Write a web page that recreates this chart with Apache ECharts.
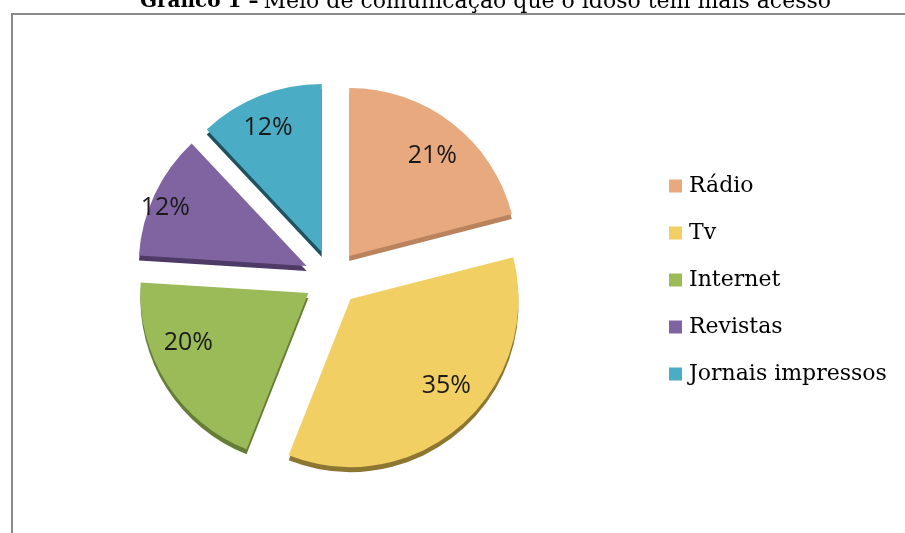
<!DOCTYPE html>
<html>
<head>
<meta charset="utf-8">
<script src="https://cdn.jsdelivr.net/npm/echarts@6/dist/echarts.min.js"></script>
<style>html,body{margin:0;padding:0;background:#fff}#c{width:905px;height:533px}</style>
</head>
<body>
<div id="c"></div>
<script>
const categories = ['Rádio', 'Tv', 'Internet', 'Revistas', 'Jornais impressos'];
const values = [21, 35, 20, 12, 12];
const titleBold = 'Gráfico 1 –';
const titleRest = 'Meio de comunicação que o idoso tem mais acesso';

const colors = ['#E8A97E', '#F2CF62', '#9BBB59', '#8064A2', '#4BACC6'];
const sideColors = ['#B9835E', '#8C7632', '#657D34', '#4E3A66', '#1F5260'];
const labelNudge = [[-1, 9], [5, -16], [-4, -24], [-17, 0], [-3, 4]];

const chart = echarts.init(document.getElementById('c'));
const center = [332, 278];
const R = 168;
const offset = 28;

const baseData = categories.map((n, i) => ({
  name: n,
  value: values[i],
  selected: true,
  itemStyle: {
    color: colors[i],
    shadowColor: sideColors[i],
    shadowBlur: 0,
    shadowOffsetX: 0,
    shadowOffsetY: 5
  }
}));
const labelData = categories.map((n, i) => ({
  name: n,
  value: values[i],
  selected: true
}));

chart.setOption({
  animation: false,
  backgroundColor: '#ffffff',
  title: {
    text: '{b|' + titleBold + '} {n|' + titleRest + '}',
    left: 140,
    top: -9,
    padding: 0,
    textStyle: {
      fontWeight: 'normal',
      rich: {
        b: { fontFamily: 'DejaVu Serif', fontWeight: 'bold', fontSize: 20, color: '#000' },
        n: { fontFamily: 'DejaVu Serif', fontWeight: 'normal', fontSize: 22, color: '#000' }
      }
    }
  },
  graphic: [{
    type: 'rect',
    shape: { x: 12, y: 14, width: 1000, height: 1000 },
    style: { fill: 'none', stroke: '#8a8a8a', lineWidth: 2 },
    silent: true,
    z: -10
  }],
  legend: {
    orient: 'vertical',
    left: 669,
    top: 175,
    padding: 0,
    itemWidth: 13,
    itemHeight: 13,
    itemGap: 25,
    icon: 'rect',
    selectedMode: false,
    data: categories,
    textStyle: { fontFamily: 'DejaVu Serif', fontSize: 22, color: '#000', lineHeight: 20, padding: [0, 0, 0, 2] }
  },
  series: [{
    type: 'pie',
    center: center,
    radius: [0, R],
    startAngle: 90,
    clockwise: true,
    selectedMode: 'multiple',
    selectedOffset: offset,
    label: { show: false },
    labelLine: { show: false },
    emphasis: { disabled: true },
    select: { itemStyle: { borderWidth: 0 } },
    silent: true,
    data: baseData
  }, {
    type: 'pie',
    center: center,
    radius: [R * 0.6, R],
    startAngle: 90,
    clockwise: true,
    selectedMode: 'multiple',
    selectedOffset: offset,
    itemStyle: { color: 'rgba(0,0,0,0)' },
    select: { itemStyle: { color: 'rgba(0,0,0,0)', borderWidth: 0 } },
    emphasis: { disabled: true },
    silent: true,
    legendHoverLink: false,
    label: {
      show: true,
      position: 'inside',
      formatter: '{c}%',
      fontFamily: 'Open Sans',
      fontSize: 25,
      color: '#1a1a1a'
    },
    labelLayout: function (p) {
      const d = labelNudge[p.dataIndex];
      return { dx: d[0], dy: d[1] };
    },
    labelLine: { show: false },
    data: labelData,
    z: 3
  }]
});
</script>
</body>
</html>
